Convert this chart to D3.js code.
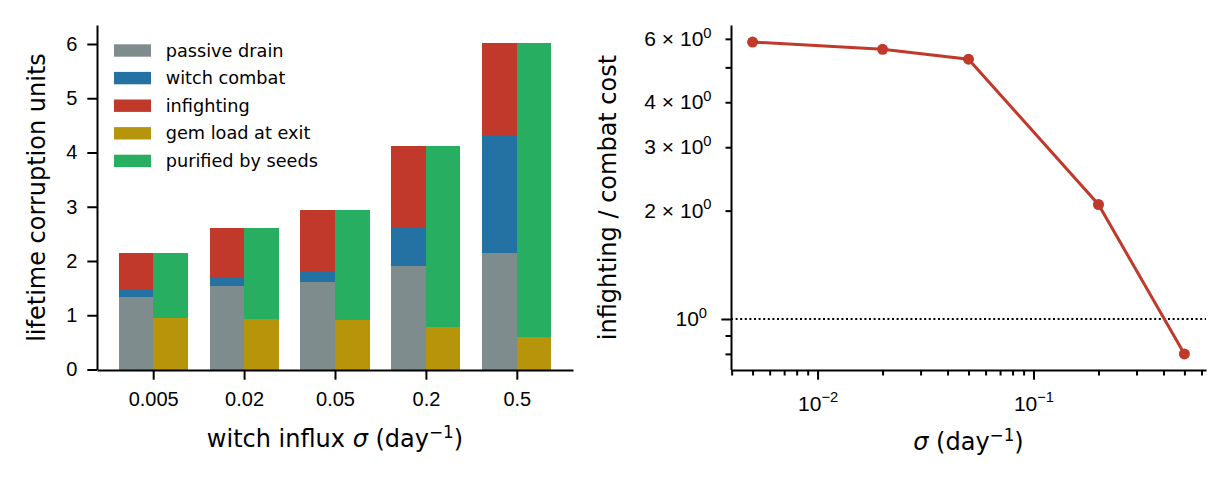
<!DOCTYPE html>
<html>
<head>
    <meta charset="utf-8">
    <style>
        body {
            margin: 0;
            background: white;
        }

        svg {
            font-family: 'DejaVu Sans', sans-serif;
        }

        .axis path,
        .axis line {
            stroke: black;
            stroke-width: 2;
        }

        .axis text {
            font-size: 20px;
            fill: black;
        }

        .axis text.math {
            font-size: 21px;
        }

        .label {
            font-size: 24px;
        }

        .legend text {
            font-size: 17.7px;
        }
    </style>
</head>
<body>
    <svg width="1232" height="484"></svg>

<script src="https://d3js.org/d3.v7.min.js"></script>
<script>
    // sigma values (day^-1)
    let sigmas = [0.005, 0.02, 0.05, 0.2, 0.5]
    let sigmaLabels = ["0.005", "0.02", "0.05", "0.2", "0.5"]

    // lifetime corruption budget
    let passive = [1.34, 1.53, 1.61, 1.91, 2.15]
    let combat = [0.12, 0.16, 0.21, 0.72, 2.16]
    let infighting = [0.69, 0.92, 1.12, 1.49, 1.70]
    let gemLoad = [0.95, 0.93, 0.91, 0.79, 0.60]
    let purified = [1.20, 1.68, 2.03, 3.33, 5.41]

    // infighting / combat ratio
    let ratio = [5.88, 5.61, 5.27, 2.08, 0.80]

    let yTicksLeft = [0, 1, 2, 3, 4, 5, 6]

    let names = ["passive drain", "witch combat", "infighting", "gem load at exit", "purified by seeds"]
    let colors = ["#7f8c8d", "#2471a3", "#c0392b", "#b7950b", "#27ae60"]

    let svg = d3.select("svg")

    // ---------- left panel: stacked bars ----------
    let barW = 0.38
    let xL = d3.scaleLinear().domain([-0.618, 4.618]).range([97, 573])
    let yL = d3.scaleLinear().domain([0, 6.35]).range([369.5, 25])

    // build the stacks: left bar = passive, combat, infighting; right = gem, purified
    let leftStack = [passive, combat, infighting]
    let rightStack = [gemLoad, purified]
    let rects = []
    sigmas.forEach((s, i) => {
        let base = 0
        leftStack.forEach((arr, k) => {
            rects.push({ x0: i - barW, x1: i, y0: base, y1: base + arr[i], color: colors[k] })
            base += arr[i]
        })
        base = 0
        rightStack.forEach((arr, k) => {
            rects.push({ x0: i, x1: i + barW, y0: base, y1: base + arr[i], color: colors[k + 3] })
            base += arr[i]
        })
    })

    svg.append("g")
        .selectAll("rect")
        .data(rects)
        .join("rect")
        .attr("x", d => xL(d.x0))
        .attr("width", d => xL(d.x1) - xL(d.x0))
        .attr("y", d => yL(d.y1))
        .attr("height", d => yL(d.y0) - yL(d.y1))
        .attr("fill", d => d.color)
        .attr("shape-rendering", "crispEdges")

    svg.append("g")
        .attr("class", "axis")
        .attr("transform", "translate(0,370)")
        .call(d3.axisBottom(xL)
            .tickValues(d3.range(sigmas.length))
            .tickFormat(i => sigmaLabels[i])
            .tickSize(9.7).tickSizeOuter(0).tickPadding(12))

    svg.append("g")
        .attr("class", "axis")
        .attr("transform", "translate(97,0)")
        .call(d3.axisLeft(yL)
            .tickValues(yTicksLeft)
            .tickFormat(d3.format("d"))
            .tickSize(9.7).tickSizeOuter(0).tickPadding(10))

    // legend (no frame)
    let legend = svg.append("g").attr("class", "legend")
    names.forEach((n, i) => {
        let cy = 50.5 + i * 27.6
        legend.append("rect")
            .attr("x", 114).attr("y", cy - 6.2)
            .attr("width", 37).attr("height", 12.4)
            .attr("fill", colors[i])
        legend.append("text")
            .attr("x", 165.7).attr("y", cy)
            .attr("dy", "0.35em")
            .text(n)
    })

    // axis labels
    let xlab = svg.append("text").attr("class", "label")
        .attr("x", 335).attr("y", 447).attr("text-anchor", "middle")
    xlab.append("tspan").text("witch influx ")
    xlab.append("tspan").attr("font-style", "italic").text("σ")
    xlab.append("tspan").text(" (day")
    xlab.append("tspan").attr("font-size", "16.8px").attr("dy", -9).text("−1")
    xlab.append("tspan").attr("dy", 9).text(")")

    svg.append("text").attr("class", "label")
        .attr("transform", "translate(45,197.5) rotate(-90)")
        .attr("text-anchor", "middle")
        .text("lifetime corruption units")

    // ---------- right panel: ratio on log-log ----------
    let xR = d3.scaleLog().domain([Math.pow(10, -2.401), Math.pow(10, -0.201)]).range([731, 1206])
    let yR = d3.scaleLog().domain([0.724, 6.556]).range([369.5, 25])

    // tick positions
    let xTicksR = []
    ;[0.001, 0.01, 0.1].forEach(dec => {
        d3.range(1, 10).forEach(m => {
            let v = dec * m
            if (v >= xR.domain()[0] && v <= xR.domain()[1]) xTicksR.push(v)
        })
    })
    let yTicksR = [0.8, 0.9, 1, 2, 3, 4, 5, 6]
    let yLabelled = [1, 2, 3, 4, 6]

    let isMajor = v => Math.abs(Math.log10(v) - Math.round(Math.log10(v))) < 1e-9

    // reference line at ratio = 1
    svg.append("line")
        .attr("x1", 731).attr("x2", 1206)
        .attr("y1", yR(1)).attr("y2", yR(1))
        .attr("stroke", "black")
        .attr("stroke-width", 2)
        .attr("stroke-dasharray", "2,2.6")

    let gx = svg.append("g")
        .attr("class", "axis")
        .attr("transform", "translate(0,370)")
        .call(d3.axisBottom(xR)
            .tickValues(xTicksR)
            .tickFormat(() => "")
            .tickSize(9.7).tickSizeOuter(0).tickPadding(16))
    gx.selectAll(".tick line").attr("y2", d => isMajor(d) ? 9.7 : 5.5)
    gx.selectAll(".tick text").each(function (d) {
        if (!isMajor(d)) return
        let t = d3.select(this).classed("math", true)
        t.append("tspan").text("10")
        t.append("tspan").attr("font-size", "14.7px").attr("dy", -8.5).text("−" + Math.abs(Math.round(Math.log10(d))))
    })

    let gy = svg.append("g")
        .attr("class", "axis")
        .attr("transform", "translate(731,0)")
        .call(d3.axisLeft(yR)
            .tickValues(yTicksR)
            .tickFormat(() => "")
            .tickSize(9.7).tickSizeOuter(0).tickPadding(14))
    gy.selectAll(".tick line").attr("x2", d => isMajor(d) ? -9.7 : -5.5)
    gy.selectAll(".tick text").each(function (d) {
        if (yLabelled.indexOf(d) < 0) return
        let t = d3.select(this).classed("math", true)
        t.attr("x", isMajor(d) ? -24 : -19.5)
        t.append("tspan").text(d === 1 ? "10" : d + " × 10")
        t.append("tspan").attr("font-size", "14.7px").attr("dy", -8.5).text("0")
    })

    let line = d3.line()
        .x((d, i) => xR(sigmas[i]))
        .y(d => yR(d))

    svg.append("path")
        .datum(ratio)
        .attr("d", line)
        .attr("fill", "none")
        .attr("stroke", "#c0392b")
        .attr("stroke-width", 3)

    svg.append("g")
        .selectAll("circle")
        .data(ratio)
        .join("circle")
        .attr("cx", (d, i) => xR(sigmas[i]))
        .attr("cy", d => yR(d))
        .attr("r", 5.5)
        .attr("fill", "#c0392b")

    let xlabR = svg.append("text").attr("class", "label")
        .attr("x", 968.5).attr("y", 450).attr("text-anchor", "middle")
    xlabR.append("tspan").attr("font-style", "italic").text("σ")
    xlabR.append("tspan").text(" (day")
    xlabR.append("tspan").attr("font-size", "16.8px").attr("dy", -9).text("−1")
    xlabR.append("tspan").attr("dy", 9).text(")")

    svg.append("text").attr("class", "label")
        .attr("transform", "translate(616,197.5) rotate(-90)")
        .attr("text-anchor", "middle")
        .text("infighting / combat cost")
</script>
</body>
</html>
